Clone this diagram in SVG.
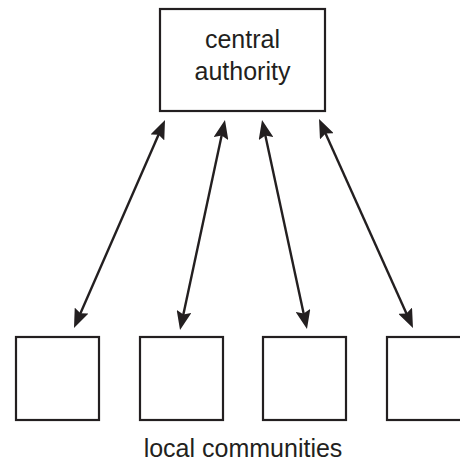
<svg xmlns="http://www.w3.org/2000/svg" width="460" height="461" viewBox="0 0 460 461">
  <style>
    .box { fill: #ffffff; stroke: #231f20; stroke-width: 2.2; }
    .lbl { font-family: "Liberation Sans", Arial, sans-serif; font-size: 25px; fill: #231f20; text-anchor: middle; }
    .conn { stroke: #231f20; stroke-width: 2.4; fill: none; marker-start: url(#ah); marker-end: url(#ah); }
  </style>
  <defs>
    <marker id="ah" markerUnits="userSpaceOnUse" viewBox="0 0 19 15" markerWidth="19" markerHeight="15" refX="11" refY="7.5" orient="auto-start-reverse">
      <path d="M0,0 L19,7.5 L0,15 L3,7.5 z" fill="#231f20"/>
    </marker>
  </defs>
  <rect width="460" height="461" fill="#ffffff"/>
  <g id="central-authority">
    <rect class="box" x="160" y="9" width="165" height="102"/>
    <text class="lbl" x="242.5" y="48">central</text>
    <text class="lbl" x="242.5" y="80">authority</text>
  </g>
  <g id="community-1"><rect class="box" x="16" y="337" width="83" height="83"/></g>
  <g id="community-2"><rect class="box" x="140" y="337" width="83" height="83"/></g>
  <g id="community-3"><rect class="box" x="263" y="337" width="83" height="83"/></g>
  <g id="community-4"><rect class="box" x="387" y="337" width="83" height="83"/></g>
  <g id="caption">
    <text class="lbl" x="243" y="457">local communities</text>
  </g>
  <g id="connectors">
    <line class="conn" x1="161.8" y1="127.3" x2="77.2" y2="320.7"/>
    <line class="conn" x1="223.3" y1="127.8" x2="181.7" y2="322.2"/>
    <line class="conn" x1="263.7" y1="127.8" x2="305.3" y2="321.2"/>
    <line class="conn" x1="322.3" y1="126.3" x2="409.7" y2="320.7"/>
  </g>
</svg>
